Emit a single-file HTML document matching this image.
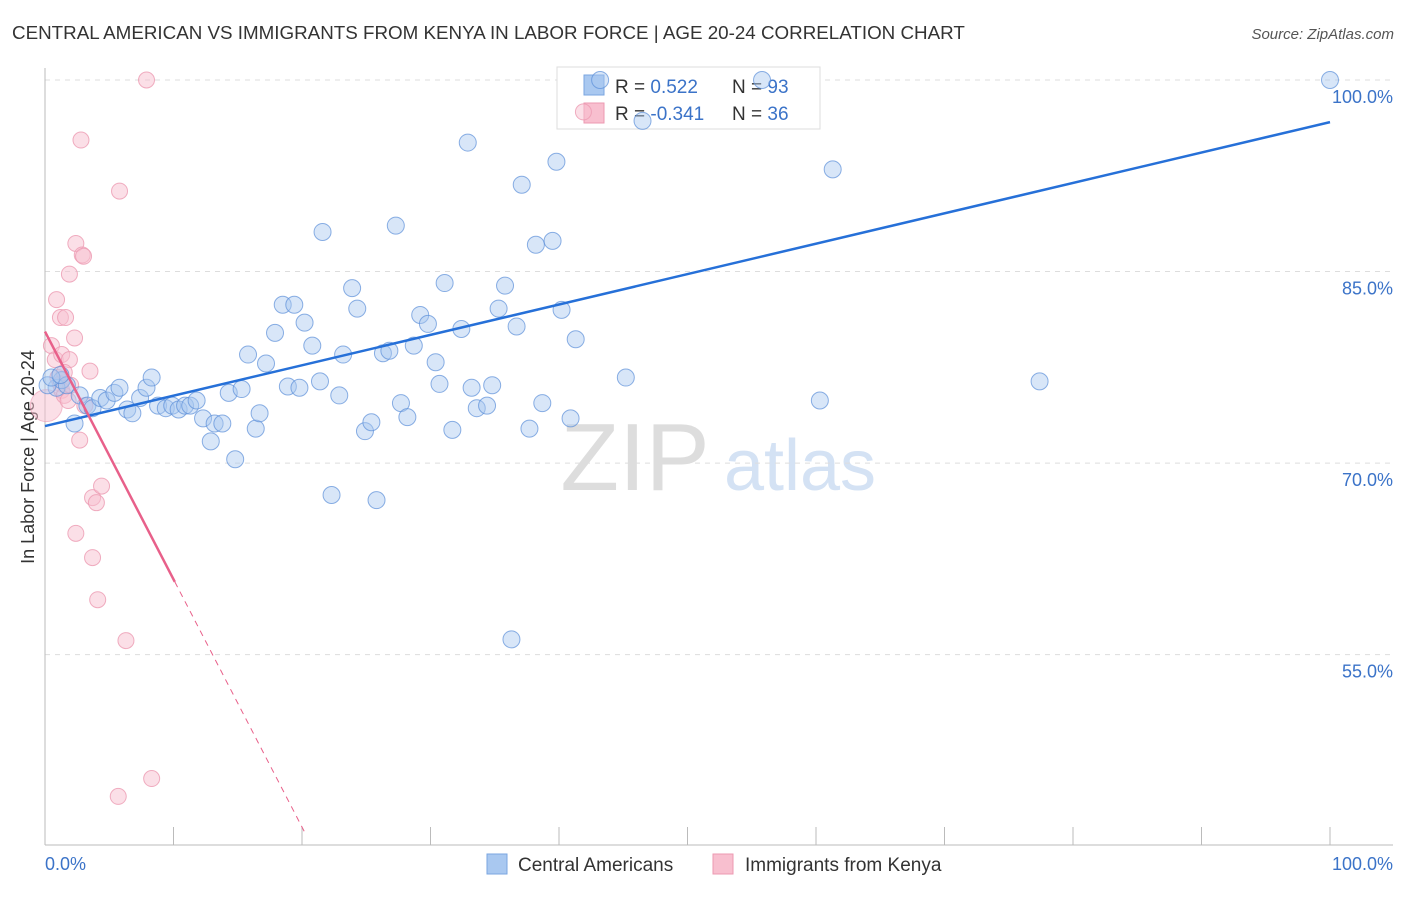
<!DOCTYPE html>
<html><head><meta charset="utf-8"><style>
body{margin:0;background:#fff;font-family:"Liberation Sans",sans-serif;}
svg text{font-family:"Liberation Sans",sans-serif;}
</style></head><body>
<svg id="chart" width="1406" height="892" viewBox="0 0 1406 892">
<text x="12" y="39" font-size="18.8" fill="#333">CENTRAL AMERICAN VS IMMIGRANTS FROM KENYA IN LABOR FORCE | AGE 20-24 CORRELATION CHART</text>
<text x="1394" y="39" font-size="15" font-style="italic" fill="#555" text-anchor="end">Source: ZipAtlas.com</text>
<text x="635" y="490" font-size="96" font-family="Liberation Serif" fill="#ddd" text-anchor="middle">ZIP</text>
<text x="800" y="490" font-size="72" fill="#d4e2f4" text-anchor="middle">atlas</text>
<g id="grid"></g>
<line x1="45" y1="68" x2="45" y2="845" stroke="#bbb"/>
<line x1="45" y1="845" x2="1393" y2="845" stroke="#bbb"/>
<g id="xticks"></g>
<text transform="translate(34,457) rotate(-90)" font-size="18" fill="#333" text-anchor="middle">In Labor Force | Age 20-24</text>
<text x="45" y="870" font-size="18" fill="#3b73c8">0.0%</text>
<text x="1393" y="870" font-size="18" fill="#3b73c8" text-anchor="end">100.0%</text>
<g>
<rect x="557" y="67" width="263" height="62" fill="#fff" stroke="#ddd"/>
<rect x="584" y="75" width="20" height="20" fill="#a9c8f0" stroke="#7aa6e0"/>
<rect x="584" y="103" width="20" height="20" fill="#f8bfcf" stroke="#ec9ab2"/>
<text x="615" y="93" font-size="19" fill="#333">R =  <tspan fill="#3b73c8">0.522</tspan></text>
<text x="732" y="93" font-size="19" fill="#333">N = <tspan fill="#3b73c8">93</tspan></text>
<text x="615" y="120" font-size="19" fill="#333">R = <tspan fill="#3b73c8">-0.341</tspan></text>
<text x="732" y="120" font-size="19" fill="#333">N = <tspan fill="#3b73c8">36</tspan></text>
</g>
<g id="pts"></g>
<g id="lines"></g>
<g>
<rect x="487" y="854" width="20" height="20" fill="#a9c8f0" stroke="#7aa6e0"/>
<text x="518" y="871" font-size="19" fill="#333">Central Americans</text></g>
<g>
<rect x="713" y="854" width="20" height="20" fill="#f8bfcf" stroke="#ec9ab2"/>
<text x="745" y="871" font-size="19" fill="#333">Immigrants from Kenya</text></g>
</svg>
<script>
const yTicks=[100,85,70,55];
const yTickLabels=["100.0%","85.0%","70.0%","55.0%"];
const xTicks=[0,10,20,30,40,50,60,70,80,90,100];
const blueX=[0.9,1.3,1.7,2.3,2.7,3.3,3.7,4.3,4.8,5.4,5.8,6.4,6.8,7.4,7.9,8.3,8.8,9.4,9.9,10.4,10.9,11.3,11.8,12.3,12.9,13.2,13.8,14.8,14.3,15.3,16.4,16.7,15.8,17.2,17.9,18.5,19.4,18.9,19.8,20.2,20.8,21.4,21.6,22.3,22.9,23.2,23.9,24.3,24.9,25.4,25.8,26.3,26.8,27.3,27.7,28.2,28.7,29.2,29.8,30.4,30.7,31.1,31.7,32.4,32.9,33.2,33.6,34.4,34.8,35.3,35.8,36.3,36.7,37.1,37.7,38.2,38.7,39.5,39.8,40.2,40.9,41.3,43.2,46.5,45.2,55.8,60.3,61.3,77.4,100,0.2,0.5,1.2];
const blueY=[75.9,76.5,76.1,73.1,75.3,74.5,74.3,75.1,74.9,75.5,75.9,74.2,73.9,75.1,75.9,76.7,74.5,74.3,74.5,74.2,74.5,74.5,74.9,73.5,71.7,73.1,73.1,70.3,75.5,75.8,72.7,73.9,78.5,77.8,80.2,82.4,82.4,76.0,75.9,81.0,79.2,76.4,88.1,67.5,75.3,78.5,83.7,82.1,72.5,73.2,67.1,78.6,78.8,88.6,74.7,73.6,79.2,81.6,80.9,77.9,76.2,84.1,72.6,80.5,95.1,75.9,74.3,74.5,76.1,82.1,83.9,56.2,80.7,91.8,72.7,87.1,74.7,87.4,93.6,82.0,73.5,79.7,100,96.8,76.7,100,74.9,93.0,76.4,100,76.1,76.7,76.9];
const pinkX=[0.5,0.8,1.0,1.2,1.3,1.5,1.8,2.0,0.9,1.2,1.6,1.3,1.9,2.3,1.9,2.4,2.9,3.0,2.8,3.5,3.1,2.7,2.4,3.7,4.0,4.4,3.7,4.1,6.3,5.8,7.9,8.3,5.7,1.5,41.9];
const pinkY=[79.2,78.1,76.7,76.2,75.7,75.3,74.9,76.1,82.8,81.4,81.4,78.5,78.1,79.8,84.8,87.2,86.3,86.2,95.3,77.2,74.5,71.8,64.5,67.3,66.9,68.2,62.6,59.3,56.1,91.3,100,45.3,43.9,77.1,97.5];
const bigPink=[0.1,74.5];
const blueTrend=[72.9,96.7];
const pinkTrend=[80.3,-1.94];
const pinkSolidEnd=10.1, pinkDashEnd=20.2;
const X=v=>45+v*12.85, Y=v=>80+(100-v)*12.77;
const NS="http://www.w3.org/2000/svg";
function mk(t,a,p){const e=document.createElementNS(NS,t);for(const k in a)e.setAttribute(k,a[k]);p.appendChild(e);return e;}
const grid=document.getElementById('grid');
yTicks.forEach((t,i)=>{
 const l=mk('line',{x1:45,x2:1393,y1:Y(t),y2:Y(t),stroke:'#ddd','stroke-dasharray':'5,5'},grid);
 
 
 const tx=mk('text',{x:1393,y:Y(t)+23,'font-size':18,fill:'#3b73c8','text-anchor':'end'},grid);
 tx.textContent=yTickLabels[i];
 
 
});
const xt=document.getElementById('xticks');
xTicks.forEach(t=>{
 const l=mk('line',{x1:X(t),x2:X(t),y1:827,y2:845,stroke:'#bbb'},xt);
 
 
});
const pts=document.getElementById('pts');
const bp=mk('circle',{cx:X(bigPink[0]),cy:Y(bigPink[1]),r:16,fill:'#f8bfcf','fill-opacity':0.5,stroke:'#ec9ab2','stroke-opacity':0.6},pts);


pinkX.forEach((x,i)=>{
 const c=mk('circle',{cx:X(x),cy:Y(pinkY[i]),r:8,fill:'#f8bfcf','fill-opacity':0.5,stroke:'#ec9ab2','stroke-opacity':0.8},pts);
 
 
});
blueX.forEach((x,i)=>{
 const c=mk('circle',{cx:X(x),cy:Y(blueY[i]),r:8.5,fill:'#a9c8f0','fill-opacity':0.45,stroke:'#5b8fd8','stroke-opacity':0.7},pts);
 
 
});
const ln=document.getElementById('lines');
const b=mk('line',{x1:X(0),y1:Y(blueTrend[0]),x2:X(100),y2:Y(blueTrend[1]),stroke:'#2670d8','stroke-width':2.5},ln);


const pv=x=>pinkTrend[0]+pinkTrend[1]*x;
const p1=mk('line',{x1:X(0),y1:Y(pv(0)),x2:X(pinkSolidEnd),y2:Y(pv(pinkSolidEnd)),stroke:'#e8608a','stroke-width':2.5},ln);


const p2=mk('line',{x1:X(pinkSolidEnd),y1:Y(pv(pinkSolidEnd)),x2:X(pinkDashEnd),y2:Y(pv(pinkDashEnd)),stroke:'#e8608a','stroke-width':1,'stroke-dasharray':'6,5'},ln);


</script>
</body></html>
